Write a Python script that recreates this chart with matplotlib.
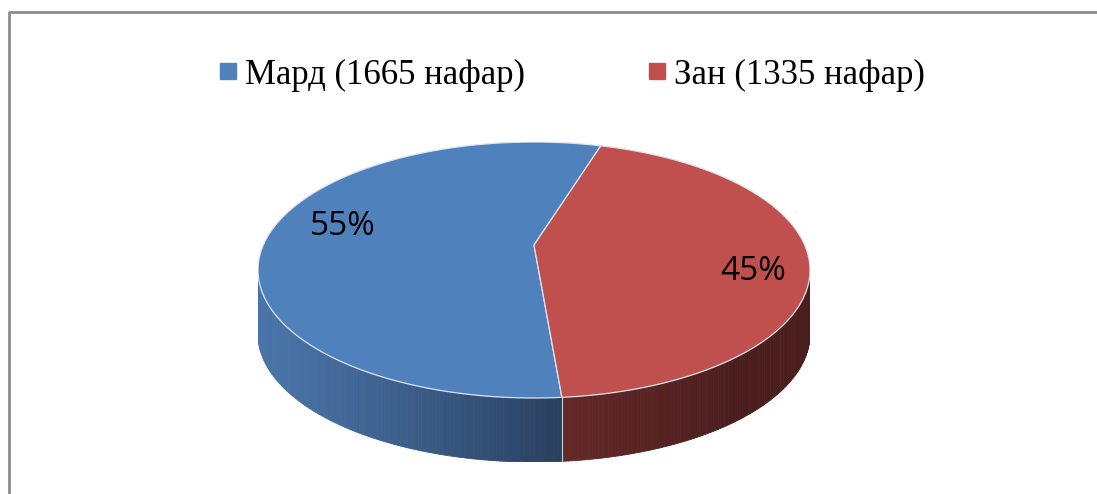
import numpy as np
import matplotlib
matplotlib.use("Agg")
import matplotlib.pyplot as plt
from matplotlib.patches import Rectangle, Polygon
from matplotlib.colors import to_rgb

# data
labels = ["Мард (1665 нафар)", "Зан (1335 нафар)"]
counts = [1665, 1335]
pct_labels = ["55%", "45%"]
colors = ["#4f81bd", "#c0504d"]
side_light = ["#4a74a9", "#642829"]
side_dark = ["#293f5e", "#4a1e1d"]

W, H = 1097, 494
fig = plt.figure(figsize=(W / 100, H / 100), dpi=100)

# full-figure axes in pixel coordinates (for frame + legend)
bg = fig.add_axes([0, 0, 1, 1])
bg.set_xlim(0, W)
bg.set_ylim(H, 0)
bg.axis("off")
bg.plot([9, 9, W + 5], [H + 5, 12, 12], color="#8c8c8c", lw=2, solid_capstyle="butt")

# legend
leg_x = [220, 649]
for i, lab in enumerate(labels):
    bg.add_patch(Rectangle((leg_x[i], 63), 16, 16, color=colors[i]))
    bg.text(leg_x[i] + 25, 75, lab, fontsize=25, family="Liberation Serif",
            va="center", ha="left")

# pie axes: ellipse 276 x 128 px, depth 64 px
cx, cy, rx, ry, depth_px = 534, 270, 276, 128, 64
depth = depth_px / ry
ax = fig.add_axes([(cx - rx) / W, (H - (cy + ry + depth_px)) / H,
                   2 * rx / W, (2 * ry + depth_px) / H])
ax.set_xlim(-1, 1)
ax.set_ylim(-1 - depth, 1)
ax.axis("off")

start = 76
apex = (0, 0.195)  # perspective shift of the pie centre
fracs = np.array(counts) / sum(counts)
edges = start + 360 * np.concatenate([[0], np.cumsum(fracs)])

# side wall (front half only, 180..360 deg)
for i in range(len(counts)):
    a0, a1 = edges[i], edges[i + 1]
    seg = []
    for k in range(-1, 2):
        s0, s1 = max(a0 + 360 * k, 180), min(a1 + 360 * k, 360)
        if s1 > s0:
            seg.append((s0, s1))
    c_l, c_d = np.array(to_rgb(side_light[i])), np.array(to_rgb(side_dark[i]))
    for s0, s1 in seg:
        t = np.linspace(s0, s1, 120)
        xe = (np.cos(np.radians(s1)) + 1) / 2
        for j in range(len(t) - 1):
            t1, t2 = np.radians(t[j]), np.radians(t[j + 1])
            x1, x2 = np.cos(t1), np.cos(t2)
            y1, y2 = np.sin(t1), np.sin(t2)
            if i == 0:
                f = min(1, ((x1 + 1) / 2) / xe)
                col = c_l + (c_d - c_l) * f ** 1.2
            else:
                col = c_l + (c_d - c_l) * min(1, (t[j] - s0) / 40)
            col = np.clip(col, 0, 1)
            ax.add_patch(Polygon([(x1, y1), (x2, y2), (x2, y2 - depth), (x1, y1 - depth)],
                                 closed=True, facecolor=col, edgecolor=col, lw=0.6))
        if s0 > 180:
            xb, yb = np.cos(np.radians(s0)), np.sin(np.radians(s0))
            ax.plot([xb, xb], [yb, yb - depth], color="#c8d0da", lw=0.8)

# top face
for i in range(len(counts)):
    t = np.radians(np.linspace(edges[i], edges[i + 1], 300))
    pts = np.vstack([[apex], np.column_stack([np.cos(t), np.sin(t)])])
    ax.add_patch(Polygon(pts, closed=True, facecolor=colors[i],
                         edgecolor="#dde4ee", lw=0.9, zorder=3))

# percentage labels
ax.text(343, 226, pct_labels[0], fontsize=24, family="Open Sans", ha="center",
        va="center", transform=bg.transData, zorder=5)
ax.text(753, 271, pct_labels[1], fontsize=24, family="Open Sans", ha="center",
        va="center", transform=bg.transData, zorder=5)

fig.savefig("out.png", dpi=100)
